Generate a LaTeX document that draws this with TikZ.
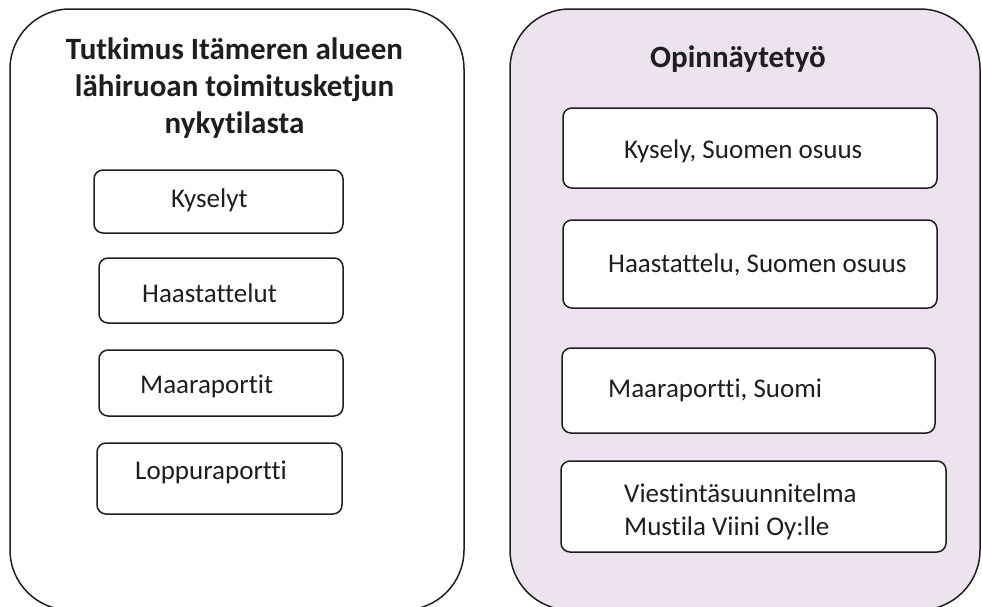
\documentclass[tikz,border=0pt]{standalone}
\usepackage{fontspec}
\setmainfont{Carlito}[Ligatures=CommonOff]
\usetikzlibrary{fit}
\definecolor{inkline}{RGB}{30,30,32}
\definecolor{panelpink}{RGB}{237,227,238}
\begin{document}
\begin{tikzpicture}[x=1pt,y=-1pt,
  panel/.style={draw=inkline,line width=1.5pt,rounded corners=60pt,inner sep=0pt},
  itembox/.style={draw=inkline,line width=1.5pt,rounded corners=9pt,fill=white,inner sep=0pt},
  txt/.style={inner sep=0pt,anchor=base west,text=inkline,font=\fontsize{27}{33}\selectfont},
  heading/.style={inner sep=0pt,text=inkline,font=\fontsize{31}{37}\selectfont\bfseries,align=center}]
\useasboundingbox (0,0) rectangle (982,606);
\clip (0,0) rectangle (982,606);

% the two panels
\node[panel,fit={(10,9) (464,610)}] (study) {};
\node[panel,fill=panelpink,fit={(510,9) (980,610)}] (thesis) {};

% left panel: research project
\node[heading,anchor=base] (studytitle) at (234.5,133)
  {Tutkimus Itämeren alueen\\lähiruoan toimitusketjun\\nykytilasta};
\node[itembox,fit={(94,170) (343,233)}] (b1) {};
\node[itembox,fit={(99,258) (343,323)}] (b2) {};
\node[itembox,fit={(99,350) (343,416)}] (b3) {};
\node[itembox,fit={(97,443) (342,514)}] (b4) {};
\node[txt] (t1) at (171,207) {Kyselyt};
\node[txt] (t2) at (142,302) {Haastattelut};
\node[txt] (t3) at (140,393) {Maaraportit};
\node[txt] (t4) at (135,479) {Loppuraportti};

% right panel: thesis
\node[heading,anchor=base] (thesistitle) at (738,67) {Opinnäytetyö};
\node[itembox,fit={(563,108) (937,188)}] (r1) {};
\node[itembox,fit={(563,220) (937,308)}] (r2) {};
\node[itembox,fit={(562,348) (935,433)}] (r3) {};
\node[itembox,fit={(561,461) (946,552)}] (r4) {};
\node[txt] (s1) at (624,158) {Kysely, Suomen osuus};
\node[txt] (s2) at (608,272) {Haastattelu, Suomen osuus};
\node[txt] (s3) at (608,397) {Maaraportti, Suomi};
\node[txt] (s4a) at (624,502) {Viestintäsuunnitelma};
\node[txt] (s4b) at (624,535) {Mustila Viini Oy:lle};
\end{tikzpicture}
\end{document}
